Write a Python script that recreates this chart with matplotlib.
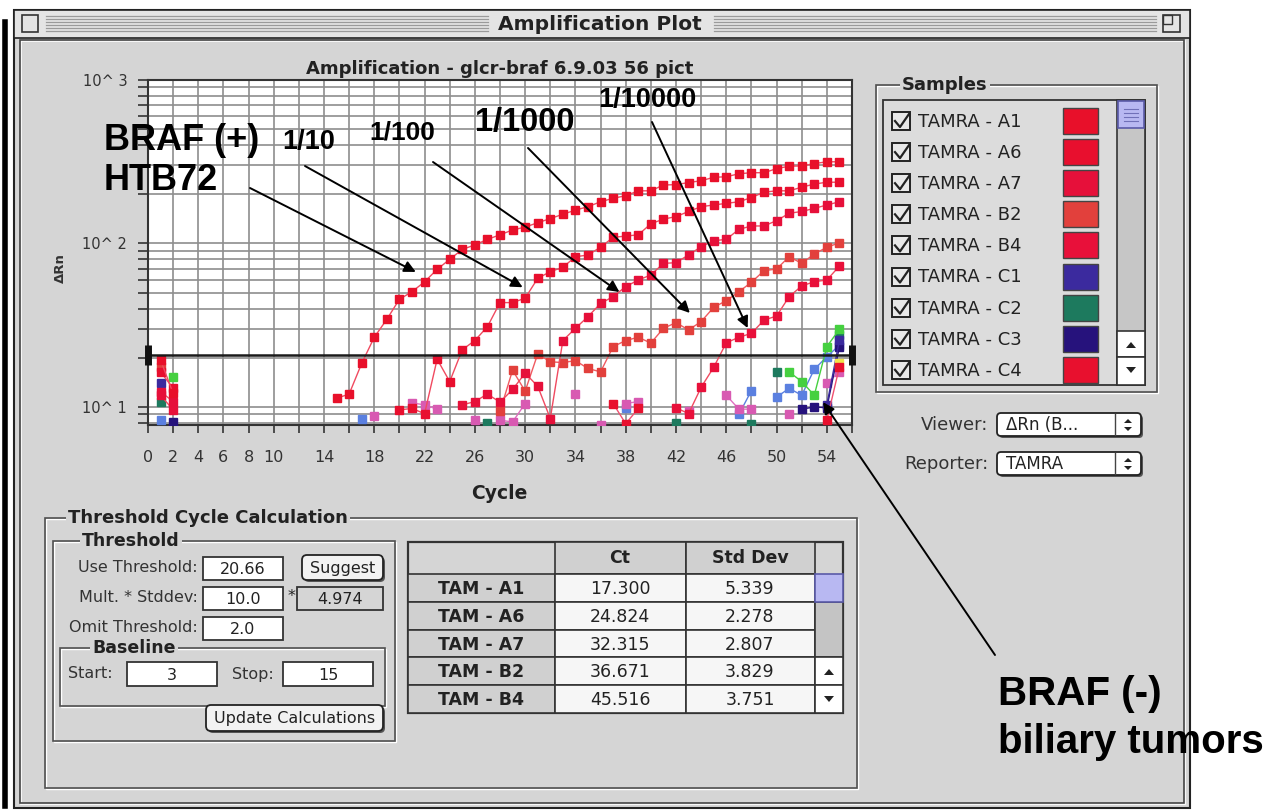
import matplotlib
matplotlib.use('Agg')
import matplotlib.pyplot as plt
from matplotlib.patches import Rectangle, FancyBboxPatch, Polygon
from matplotlib.ticker import LogLocator, NullFormatter, FixedLocator
import numpy as np

# ---- amplification data (cycle, delta Rn); None = off scale ----
a1_cyc = [1, 2, 3] + list(range(15, 56))
a1_drn = [19.4, 12.1, None,
          11.3, 12.0, 18.5, 26.7, 34.4, 45.6, 50.7, 58.3, 69.5, 80, 92, 98, 106, 113,
          121, 126, 134, 142, 151, 160, 168, 180, 189, 196, 210, 210, 228, 229, 236,
          242, 254, 256, 267, 271, 271, 287, 297, 298, 308, 316, 316]
a6_cyc = [1, 2, 3] + list(range(20, 56))
a6_drn = [16.4, 13.0, None,
          9.6, 9.8, 9.1, 19.6, 14.3, 22.4, 25.5, 31, 43.5, 43.5, 46.3, 61.2, 67.3, 71.5,
          83, 85, 95, 109, 111, 113, 132, 141, 146, 157, 168, 172, 176, 180, 191, 206,
          210, 210, 221, 231, 237, 237]
a7_cyc = [1, 2, 3] + list(range(25, 56))
a7_drn = [12.4, 10.8, None,
          10.3, 10.8, 12.0, 10.7, 12.8, 16.1, 13.4, 8.5, 25.5, 30.3, 35.7, 43, 47.3,
          54.5, 59.8, 64.2, 75.6, 76.3, 85.1, 95.6, 104, 106, 122, 128, 128, 138, 153,
          157, 164, 172, 180]
b2_cyc = [1, 2] + list(range(28, 56))
b2_drn = [17.6, None,
          9.4, 16.8, 12.5, 21.1, 18.9, 18.7, 19.2, 17.2, 16.4, 23.4, 25.5, 26.7, 24.6,
          30.3, 32.8, 29.6, 33.3, 40.7, 44.7, 50.7, 57.9, 68.2, 69.8, 83, 75.6, 86.3,
          94.8, 101]
b4_cyc = [1, 2, 3] + list(range(42, 56))
b4_drn = [11.8, 9.6, None,
          9.9, 9.1, 13.2, 17.5, 24.7, 26.7, 28.2, 34, 36, 47.3, 55, 58.4, 59.8, 72.8]
c1_cyc = [1, 2, 54, 55]
c1_drn = [14.0, None, 10.3, 25.7]
c2_cyc = [1, 2, 27, 28, 42, 43, 48, 49, 50, 51, 55]
c2_drn = [10.8, None, 7.95, None, 8.0, None, 7.9, None, 16.4, None, 27.6]
c3_cyc = [2, 3, 52, 53, 54, 55]
c3_drn = [8.1, None, 9.7, 10.0, 9.9, 23.4]
c4_cyc = [37, 38, 39, 40, 54, 55]
c4_drn = [10.5, 7.9, 9.8, None, 8.3, 17.6]
pink_cyc = [18, 19, 21, 22, 23, 24, 26, 27, 28, 29, 30, 31, 34, 35, 36, 37, 38, 39, 40,
            43, 44, 46, 47, 48, 49, 51, 52, 54, 55]
pink_drn = [8.8, None, 10.6, 10.3, 9.7, None, 8.3, None, 8.3, 8.1, 10.5, None, 12.0, None,
            7.8, None, 10.5, 10.8, None, 9.4, None, 11.8, 9.7, 9.7, None, 9.1, None, 14.0, 16.4]
lblue_cyc = [1, 2, 17, 18, 38, 39, 47, 48, 49, 50, 51, 52, 53, 54, 55]
lblue_drn = [8.3, None, 8.5, None, 9.8, None, 9.0, 12.6, None, 11.5, 13.0, 11.8, 17.0, 20.3, 23.9]
green_cyc = [2, 3, 51, 52, 53, 54, 55]
green_drn = [15.3, None, 16.4, 14.3, 11.8, 23.4, 29.9]
yellow_cyc = [55]
yellow_drn = [18.5]

threshold = 20.66

x_ticks = list(range(0, 57, 2))
x_labelled = [0, 2, 4, 6, 8, 10, 14, 18, 22, 26, 30, 34, 38, 42, 46, 50, 54]
y_ticks = [10, 100, 1000]
y_ticklabels = ['10^ 1', '10^ 2', '10^ 3']

sample_names = ['TAMRA - A1', 'TAMRA - A6', 'TAMRA - A7', 'TAMRA - B2', 'TAMRA - B4',
                'TAMRA - C1', 'TAMRA - C2', 'TAMRA - C3', 'TAMRA - C4']
sample_colors = ['#e8102a', '#e80f2e', '#e6103a', '#e2403c', '#e8103a',
                 '#3b2a9e', '#1d7a5e', '#26127c', '#e8102e']

table_rows = ['TAM - A1', 'TAM - A6', 'TAM - A7', 'TAM - B2', 'TAM - B4']
table_ct = ['17.300', '24.824', '32.315', '36.671', '45.516']
table_sd = ['5.339', '2.278', '2.807', '3.829', '3.751']

WIN = '#d5d5d5'
UI_FONT = 'DejaVu Sans'

fig = plt.figure(figsize=(12.76, 8.10), dpi=100)
fig.patch.set_facecolor('white')

# background axes in pixel coordinates (y down)
bg = fig.add_axes([0, 0, 1, 1])
bg.set_xlim(0, 1276)
bg.set_ylim(810, 0)
bg.axis('off')


def rect(x0, y0, x1, y1, fc='none', ec='#555555', lw=1.0, z=1):
    bg.add_patch(Rectangle((x0, y0), x1 - x0, y1 - y0, facecolor=fc, edgecolor=ec,
                           linewidth=lw, zorder=z))


def label(x, y, s, size=11.5, bold=False, ha='left', color='#222222', bgc=None):
    kw = {}
    if bgc:
        kw['bbox'] = dict(fc=bgc, ec='none', pad=1.5)
    bg.text(x, y, s, fontsize=size, fontweight='bold' if bold else 'normal',
            family=UI_FONT, ha=ha, va='center', color=color, zorder=4, **kw)


def group(x0, y0, x1, y1, title, tx, size=13):
    rect(x0 + 1, y0 + 1, x1 + 1, y1 + 1, ec='white', lw=1)
    rect(x0, y0, x1, y1, ec='#505050', lw=1.2)
    label(tx, y0, title, size=size, bold=True, bgc=WIN)


def field(x0, y0, x1, y1, s, fc='white'):
    rect(x0, y0, x1, y1, fc=fc, ec='#333333', lw=1.3, z=2)
    label((x0 + x1) / 2, (y0 + y1) / 2 + 1, s, size=11.5, ha='center')


def button(x0, y0, x1, y1, s):
    bg.add_patch(FancyBboxPatch((x0 + 2, y0 + 2), x1 - x0, y1 - y0,
                                boxstyle='round,pad=0,rounding_size=5',
                                fc='#555555', ec='none', zorder=2))
    bg.add_patch(FancyBboxPatch((x0, y0), x1 - x0, y1 - y0,
                                boxstyle='round,pad=0,rounding_size=5',
                                fc='#f2f2f2', ec='#222222', lw=1.3, zorder=2))
    label((x0 + x1) / 2, (y0 + y1) / 2 + 1, s, size=11.5, ha='center')


# left edge artefact and window frame
bg.plot([5, 5], [22, 806], color='black', lw=4, zorder=1)
rect(14, 10, 1190, 808, fc=WIN, ec='#222222', lw=1.5)
rect(14, 10, 1190, 38, fc='#e4e4e4', ec='#222222', lw=1.2)
for yy in range(16, 34, 3):
    bg.plot([46, 488], [yy, yy], color='#9a9a9a', lw=0.9, zorder=1)
    bg.plot([714, 1156], [yy, yy], color='#9a9a9a', lw=0.9, zorder=1)
label(600, 24, 'Amplification Plot', size=14.5, bold=True, ha='center')
rect(22, 15, 38, 32, fc='#e4e4e4', ec='#333333', lw=1.2, z=2)
rect(1163, 15, 1180, 32, fc='#e4e4e4', ec='#333333', lw=1.2, z=2)
rect(1163, 15, 1172, 24, ec='#333333', lw=1.0, z=2)
rect(21, 41, 1185, 804, ec='white', lw=1.2)
rect(20, 40, 1184, 803, ec='#444444', lw=1.2)

# samples list
group(876, 85, 1157, 392, 'Samples', 902)
rect(883, 100, 1145, 385, fc='#dcdcdc', ec='#333333', lw=1.3, z=1)
for i, (name, col) in enumerate(zip(sample_names, sample_colors)):
    yc = 121 + 31.1 * i
    rect(892, yc - 9, 910, yc + 9, fc='#e8e8e8', ec='#222222', lw=1.4, z=2)
    bg.plot([895, 900, 909], [yc, yc + 6, yc - 7], color='#222222', lw=1.6, zorder=3)
    label(918, yc + 1, name, size=13)
    rect(1063, yc - 13, 1098, yc + 13, fc=col, ec='#444444', lw=1.0, z=2)
rect(1117, 100, 1145, 385, fc='#c6c6c6', ec='#333333', lw=1.2, z=2)
rect(1118, 101, 1144, 128, fc='#b8b8f2', ec='#5a5aa8', lw=1.2, z=3)
for yy in (109, 113, 117, 121):
    bg.plot([1124, 1138], [yy, yy], color='#7070b8', lw=0.8, zorder=4)
rect(1117, 331, 1145, 357, fc='white', ec='#333333', lw=1.2, z=3)
rect(1117, 357, 1145, 385, fc='white', ec='#333333', lw=1.2, z=3)
bg.add_patch(Polygon([[1126, 348], [1136, 348], [1131, 342]], fc='#222222', zorder=4))
bg.add_patch(Polygon([[1126, 367], [1136, 367], [1131, 373]], fc='#222222', zorder=4))

# viewer / reporter popups
for yc, lab, val in ((425, 'Viewer:', '\u0394Rn (B...'), (464, 'Reporter:', 'TAMRA')):
    label(988, yc, lab, size=13, ha='right', color='#333333')
    bg.add_patch(FancyBboxPatch((999, yc - 10), 144, 23, boxstyle='round,pad=0,rounding_size=4',
                                fc='#555555', ec='none', zorder=2))
    bg.add_patch(FancyBboxPatch((997, yc - 12), 144, 23, boxstyle='round,pad=0,rounding_size=4',
                                fc='white', ec='#222222', lw=1.3, zorder=2))
    label(1006, yc, val, size=12)
    bg.plot([1115, 1115], [yc - 11, yc + 10], color='#444444', lw=1, zorder=3)
    bg.add_patch(Polygon([[1124, yc - 2], [1132, yc - 2], [1128, yc - 6]], fc='#222222', zorder=4))
    bg.add_patch(Polygon([[1124, yc + 2], [1132, yc + 2], [1128, yc + 6]], fc='#222222', zorder=4))

# threshold cycle calculation panel
group(45, 518, 857, 788, 'Threshold Cycle Calculation', 68)
group(53, 541, 395, 741, 'Threshold', 82, size=12.5)
label(198, 568, 'Use Threshold:', ha='right', color='#333333')
label(198, 598, 'Mult. * Stddev:', ha='right', color='#333333')
label(198, 628, 'Omit Threshold:', ha='right', color='#333333')
field(203, 557, 283, 580, '20.66')
field(203, 587, 283, 610, '10.0')
field(203, 617, 283, 640, '2.0')
label(288, 597, '*')
field(297, 587, 383, 610, '4.974', fc=WIN)
button(302, 555, 383, 580, 'Suggest')
group(60, 648, 385, 706, 'Baseline', 92, size=12.5)
label(68, 674, 'Start:', color='#333333')
field(127, 662, 217, 686, '3')
label(232, 674, 'Stop:', color='#333333')
field(283, 662, 373, 686, '15')
button(206, 705, 383, 731, 'Update Calculations')

# Ct table
rect(408, 542, 843, 713, fc=WIN, ec='#333333', lw=1.6, z=1)
rect(555, 542, 686, 574, fc='#d0d0d0', ec='#333333', lw=1.2, z=2)
rect(686, 542, 815, 574, fc='#d0d0d0', ec='#333333', lw=1.2, z=2)
label(620, 558, 'Ct', size=12.5, bold=True, ha='center')
label(750, 558, 'Std Dev', size=12.5, bold=True, ha='center')
row_h = 27.8
for i, (rn, ct, sd) in enumerate(zip(table_rows, table_ct, table_sd)):
    y0 = 574 + row_h * i
    rect(408, y0, 555, y0 + row_h, fc='#d0d0d0', ec='#333333', lw=1.2, z=2)
    rect(555, y0, 686, y0 + row_h, fc='#f6f6f6', ec='#333333', lw=1.2, z=2)
    rect(686, y0, 815, y0 + row_h, fc='#f6f6f6', ec='#333333', lw=1.2, z=2)
    label(481, y0 + row_h / 2 + 1, rn, size=12.5, bold=True, ha='center')
    label(620, y0 + row_h / 2 + 1, ct, size=12.5, ha='center')
    label(750, y0 + row_h / 2 + 1, sd, size=12.5, ha='center')
rect(815, 574, 843, 602, fc='#b8b8f2', ec='#5a5aa8', lw=1.2, z=3)
rect(815, 602, 843, 657, fc='#c4c4c4', ec='#333333', lw=1.2, z=2)
rect(815, 657, 843, 685, fc='white', ec='#333333', lw=1.2, z=2)
rect(815, 685, 843, 713, fc='white', ec='#333333', lw=1.2, z=2)
bg.add_patch(Polygon([[824, 675], [834, 675], [829, 669]], fc='#222222', zorder=4))
bg.add_patch(Polygon([[824, 696], [834, 696], [829, 702]], fc='#222222', zorder=4))

# ---- amplification plot ----
ax = fig.add_axes([148 / 1276, 1 - 425 / 810, 704 / 1276, 345 / 810])
ax.set_zorder(2)
ax.set_facecolor('white')
ax.set_yscale('log')
ax.set_xlim(0, 56)
ax.set_ylim(7.76, 1000)

ax.set_xticks(x_ticks)
ax.set_xticklabels([str(c) if c in x_labelled else '' for c in x_ticks])
ax.yaxis.set_major_locator(FixedLocator(y_ticks))
ax.set_yticklabels(y_ticklabels)
ax.yaxis.set_minor_locator(LogLocator(base=10, subs=np.arange(2, 10)))
ax.yaxis.set_minor_formatter(NullFormatter())
ax.grid(which='both', axis='y', color='#8e8e8e', lw=1.2)
ax.grid(which='major', axis='x', color='#8e8e8e', lw=1.2)
ax.set_axisbelow(True)
for sp in ax.spines.values():
    sp.set_color('#333333')
    sp.set_linewidth(1.5)
ax.tick_params(axis='y', which='both', direction='out', length=7, width=1.2,
               color='#333333', pad=8, labelsize=10.5, labelcolor='#333333')
ax.tick_params(axis='x', direction='out', length=6, width=1.2, color='#333333',
               pad=12, labelsize=11.5, labelcolor='#333333')
for t in ax.get_xticklabels() + ax.get_yticklabels():
    t.set_family(UI_FONT)

ax.set_title('Amplification - glcr-braf 6.9.03 56 pict', fontsize=13, fontweight='bold',
             family=UI_FONT, color='#222222', pad=4)
fig.text(60 / 1276, 1 - 268 / 810, '\u0394Rn', rotation=90, fontsize=9.5, fontweight='bold',
         family=UI_FONT, ha='center', va='center', color='#333333')
fig.text(499 / 1276, 1 - 494 / 810, 'Cycle', fontsize=13.5, fontweight='bold',
         family=UI_FONT, ha='center', va='center', color='#222222')


def draw(cyc, drn, color, lcolor=None, z=3):
    vals = np.array([np.nan if v is None else v for v in drn], dtype=float)
    ax.plot(cyc, vals, color=lcolor or color, lw=1.0, marker='s', ms=6.3,
            mfc=color, mec=color, zorder=z)


draw(lblue_cyc, lblue_drn, '#5b80e0')
draw(pink_cyc, pink_drn, '#d85ab2', '#e070c0')
draw(c2_cyc, c2_drn, '#1d7a5e')
draw(green_cyc, green_drn, '#45d040')
draw(c3_cyc, c3_drn, '#26127c')
draw(c1_cyc, c1_drn, '#3b2a9e')
draw(yellow_cyc, yellow_drn, '#f2e44a')
draw(c4_cyc, c4_drn, '#e8102e', '#f05070')
draw(b4_cyc, b4_drn, '#e8103a', '#f04a60', z=4)
draw(b2_cyc, b2_drn, '#e2403c', '#f05a60', z=4)
draw(a7_cyc, a7_drn, '#e6103a', '#f04a60', z=4)
draw(a6_cyc, a6_drn, '#e80f2e', '#f04a60', z=4)
draw(a1_cyc, a1_drn, '#e8102a', '#f04a60', z=4)

ax.axhline(threshold, color='#1a1a1a', lw=1.8, zorder=5)
ax.plot([0, 56], [threshold, threshold], ls='none', marker='|', ms=14, mew=5,
        color='#111111', clip_on=False, zorder=6)

# ---- annotations on top ----
top = fig.add_axes([0, 0, 1, 1], zorder=5)
top.set_xlim(0, 1276)
top.set_ylim(810, 0)
top.axis('off')
top.patch.set_alpha(0)

BIG = 'Liberation Sans'
top.text(104, 141, 'BRAF (+)', fontsize=26, fontweight='bold', family=BIG, va='center')
top.text(104, 181, 'HTB72', fontsize=26, fontweight='bold', family=BIG, va='center')
top.text(282, 142, '1/10', fontsize=19.5, fontweight='bold', family=BIG, va='center')
top.text(369, 132, '1/100', fontsize=19, fontweight='bold', family=BIG, va='center')
top.text(475, 123, '1/1000', fontsize=23.5, fontweight='bold', family=BIG, va='center')
top.text(598, 100, '1/10000', fontsize=19.5, fontweight='bold', family=BIG, va='center')
top.text(998, 694, 'BRAF (-)', fontsize=29, fontweight='bold', family=BIG, va='center')
top.text(998, 742, 'biliary tumors', fontsize=29, fontweight='bold', family=BIG, va='center')

arrow_kw = dict(arrowstyle='-|>', color='black', lw=1.4, mutation_scale=17, shrinkA=0, shrinkB=0)
for tip, tail in (((21.3, 67), (250, 188)), ((29.8, 54), (305, 166)),
                  ((37.5, 50.5), (433, 162)), ((43.1, 37.6), (528, 148)),
                  ((47.7, 30.4), (652, 122)), ((53.7, 10.7), (995, 655))):
    top.annotate('', xy=tip, xycoords=ax.transData, xytext=tail, textcoords='data',
                 arrowprops=arrow_kw)

fig.savefig('out.png', dpi=100, facecolor=fig.get_facecolor())
